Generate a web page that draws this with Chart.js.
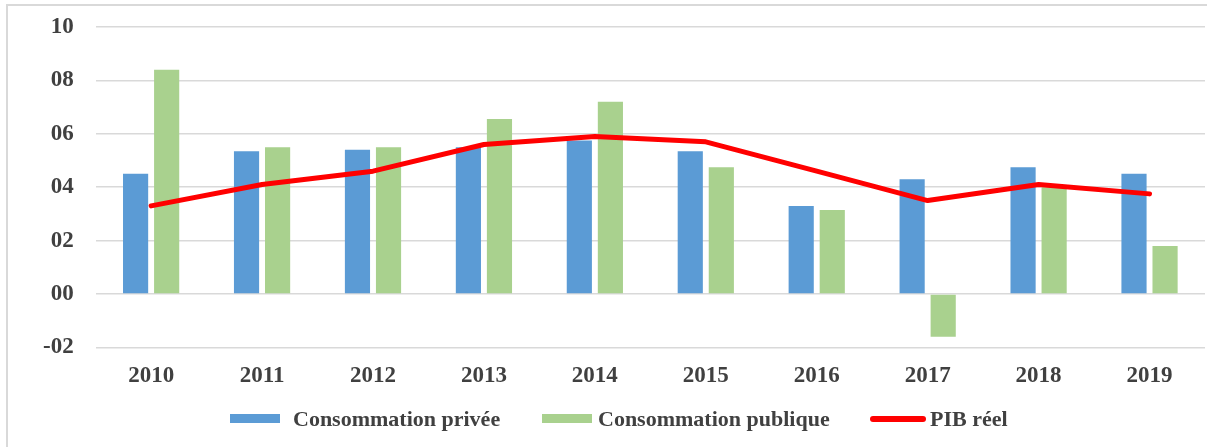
<!DOCTYPE html>
<html>
<head>
<meta charset="utf-8">
<script src="https://cdn.jsdelivr.net/npm/chart.js@4.4.0/dist/chart.umd.min.js"></script>
<style>
  html, body { margin: 0; padding: 0; background: #fff; }
  #wrap { position: relative; width: 1207px; height: 447px; overflow: hidden; }
  #c { position: absolute; left: 0; top: 0; }
  #frame { position: absolute; left: 6px; top: 4px; right: -2px; bottom: -2px;
           border-left: 2px solid #d9d9d9; border-top: 2px solid #d9d9d9; pointer-events: none; }
  .lg { position: absolute; font: bold 22px "Liberation Serif", "DejaVu Serif", serif; color: #404040;
        height: 28px; line-height: 28px; top: 405px; white-space: nowrap; }
  .sw { position: absolute; }
</style>
</head>
<body>
<div id="wrap">
  <canvas id="c" width="1207" height="447"></canvas>
  <div id="frame"></div>
  <div class="sw" style="left:230px;top:414px;width:50px;height:9px;background:#5B9BD5"></div>
  <div class="lg" style="left:293px">Consommation privée</div>
  <div class="sw" style="left:542px;top:414px;width:50px;height:9px;background:#A9D18E"></div>
  <div class="lg" style="left:598px">Consommation publique</div>
  <div class="sw" style="left:870px;top:416px;width:56px;height:6px;background:#FF0000;border-radius:3px"></div>
  <div class="lg" style="left:930px">PIB réel</div>
</div>
<script>
const categories = ["2010","2011","2012","2013","2014","2015","2016","2017","2018","2019"];
const consoPrivee = [4.5, 5.35, 5.4, 5.5, 5.75, 5.35, 3.3, 4.3, 4.75, 4.5];
const consoPublique = [8.4, 5.5, 5.5, 6.55, 7.2, 4.75, 3.15, -1.6, 4.0, 1.8];
const pibReel = [3.3, 4.1, 4.6, 5.6, 5.9, 5.7, 4.6, 3.5, 4.1, 3.75];
const seriesNames = ["Consommation privée", "Consommation publique", "PIB réel"];
const yMin = -2, yMax = 10, yStep = 2;

function fmtTick(v) {
  const s = String(Math.abs(v)).padStart(2, "0");
  return v < 0 ? "-" + s : s;
}

const tickFont = { family: "'Liberation Serif', 'DejaVu Serif', serif", size: 23, weight: "bold" };

new Chart(document.getElementById("c"), {
  data: {
    labels: categories,
    datasets: [
      { type: "bar", label: seriesNames[0], data: consoPrivee, backgroundColor: "#5B9BD5",
        categoryPercentage: 0.56, barPercentage: 0.81, order: 1 },
      { type: "bar", label: seriesNames[1], data: consoPublique, backgroundColor: "#A9D18E",
        categoryPercentage: 0.56, barPercentage: 0.81, order: 1 },
      { type: "line", label: seriesNames[2], data: pibReel, borderColor: "#FF0000", backgroundColor: "#FF0000",
        borderWidth: 5, pointRadius: 0, tension: 0, borderCapStyle: "round", borderJoinStyle: "round", order: -1 }
    ]
  },
  options: {
    responsive: false,
    animation: false,
    devicePixelRatio: 1,
    layout: { padding: { left: 21, right: 2, top: 27, bottom: 42 } },
    plugins: { legend: { display: false }, tooltip: { enabled: false } },
    scales: {
      x: {
        grid: { display: false, drawTicks: false },
        border: { display: false },
        ticks: { font: tickFont, color: "#404040", padding: 15, maxRotation: 0, autoSkip: false }
      },
      y: {
        min: yMin, max: yMax,
        grid: { color: "#d9d9d9", lineWidth: 1.5, drawTicks: false },
        border: { display: false },
        ticks: { stepSize: yStep, font: tickFont, color: "#404040", padding: 22, callback: (v) => fmtTick(v) },
        afterFit: (s) => { s.paddingTop = 0; s.paddingBottom = 0; }
      }
    }
  }
});
</script>
</body>
</html>
